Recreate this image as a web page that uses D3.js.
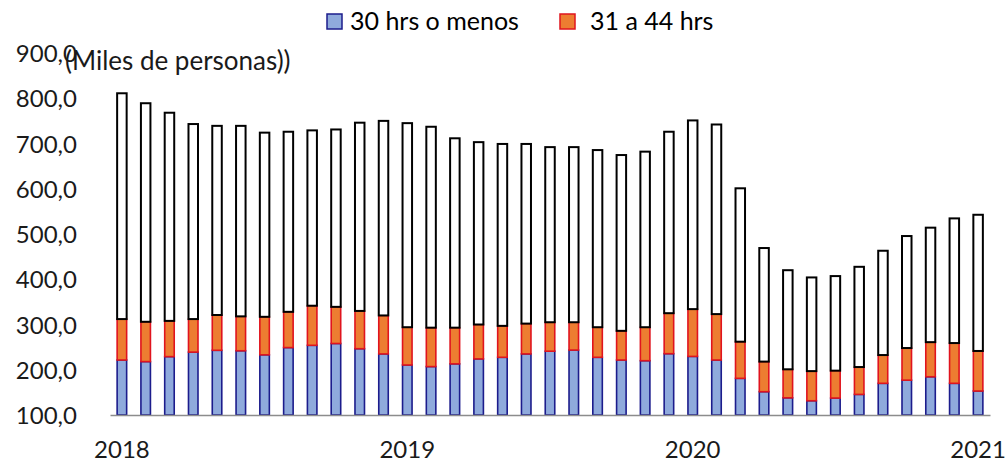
<!DOCTYPE html>
<html>
<head>
<meta charset="utf-8">
<script src="https://cdn.jsdelivr.net/npm/d3@7"></script>
<style>
  html, body { margin: 0; padding: 0; background: #fff; }
  svg { display: block; font-family: Lato, "Open Sans", sans-serif; }
</style>
</head>
<body>
<svg id="chart" width="1008" height="463"></svg>
<script>
// Months Jan 2018 – Jan 2021
const categories = [
  "ene-18","feb-18","mar-18","abr-18","may-18","jun-18","jul-18","ago-18","sep-18","oct-18","nov-18","dic-18",
  "ene-19","feb-19","mar-19","abr-19","may-19","jun-19","jul-19","ago-19","sep-19","oct-19","nov-19","dic-19",
  "ene-20","feb-20","mar-20","abr-20","may-20","jun-20","jul-20","ago-20","sep-20","oct-20","nov-20","dic-20",
  "ene-21"
];
const hrs30 = [221.5,218,229,239,243,242,233,249,254,258,246.5,235,
               210.5,207,213,224,227.5,235,241,243.5,227.5,221.5,220,235.5,
               229.5,221.5,181,151.5,138,131.5,137.5,145.5,170,177,184.5,170,
               153];
const hrs31_44 = [90.5,88,79,73,78,76,84,79,87.5,81,83.5,85,
                  83.5,86,80,76,69.5,67,64,61.5,66.5,64.5,74,89.5,
                  104.5,101.5,81,66.5,63,65.5,60.5,60.5,62.5,71,76.5,89,
                  88.5];
const hrs45 = [499,483,460,431,418,421,407,398,387.5,392,416,430,
               451,444,418.5,403,402,397,387,387,391.5,388.5,388,401,
               417,419,339,251,219,207,209,221.5,230.5,247.5,253,275.5,
               301];
const yTicks = [100,200,300,400,500,600,700,800,900];
const yearTicks = [
  {cat: "ene-18", label: "2018"},
  {cat: "ene-19", label: "2019"},
  {cat: "ene-20", label: "2020"},
  {cat: "ene-21", label: "2021"}
];
const seriesNames = ["30 hrs o menos", "31 a 44 hrs", "45 hrs o más"];
const legendNames = ["30 hrs o menos", "31 a 44 hrs"];
const unitLabel = "(Miles de personas))";

const fills = ["#8FAADC", "#ED7D31", "#FFFFFF"];
const strokes = ["#1C1C8C", "#E0141E", "#000000"];

const svg = d3.select("#chart");

const rows = categories.map((c, i) => ({
  cat: c,
  [seriesNames[0]]: hrs30[i],
  [seriesNames[1]]: hrs31_44[i],
  [seriesNames[2]]: hrs45[i]
}));
const stacked = d3.stack().keys(seriesNames)(rows);

const x = d3.scaleBand().domain(categories).range([110, 990])
  .paddingInner(0.6).paddingOuter(0.3);
const y = d3.scaleLinear().domain([100, 900]).range([415, 53]).clamp(true);

// bars
svg.append("g").selectAll("g")
  .data(stacked)
  .join("g")
  .attr("fill", (d, i) => fills[i])
  .attr("stroke", (d, i) => strokes[i])
  .attr("stroke-width", (d, i) => i === 2 ? 2 : 1.6)
  .selectAll("rect")
  .data(d => d)
  .join("rect")
  .attr("x", d => x(d.data.cat))
  .attr("width", x.bandwidth())
  .attr("y", d => y(d[1]))
  .attr("height", d => y(d[0]) - y(d[1]));

// x axis line
const xAxis = d3.axisBottom(x).tickSize(0).tickValues([]).tickSizeOuter(0);
const gx = svg.append("g").attr("transform", "translate(0,415)").call(xAxis);
gx.select(".domain").attr("stroke", "#8c8c8c").attr("stroke-width", 1.5);

// year labels
svg.append("g").selectAll("text")
  .data(yearTicks)
  .join("text")
  .attr("x", d => x(d.cat) + x.bandwidth() / 2)
  .attr("y", 458)
  .attr("text-anchor", "middle")
  .attr("font-size", 24)
  .attr("fill", "#1a1a1a")
  .text(d => d.label);

// y axis labels (no axis line)
const fmt = v => d3.format(".1f")(v).replace(".", ",");
const yAxis = d3.axisLeft(y).tickValues(yTicks).tickSize(0).tickPadding(0).tickFormat(fmt);
const gy = svg.append("g").attr("transform", "translate(77,0)").call(yAxis);
gy.select(".domain").remove();
gy.selectAll("text")
  .attr("font-family", "Lato, 'Open Sans', sans-serif")
  .attr("font-size", 24)
  .attr("fill", "#1a1a1a")
  .attr("dy", "0.36em");

// unit label
svg.append("text")
  .attr("x", 65).attr("y", 70)
  .attr("font-size", 26)
  .attr("fill", "#1a1a1a")
  .text(unitLabel);

// legend
const legX = [327, 560];
const legTextX = [350, 590];
const leg = svg.append("g").selectAll("g")
  .data(legendNames)
  .join("g");
leg.append("rect")
  .attr("x", (d, i) => legX[i]).attr("y", 14)
  .attr("width", 15).attr("height", 15)
  .attr("fill", (d, i) => fills[i])
  .attr("stroke", (d, i) => strokes[i])
  .attr("stroke-width", 1.5);
leg.append("text")
  .attr("x", (d, i) => legTextX[i]).attr("y", 30)
  .attr("font-size", 25)
  .attr("fill", "#000")
  .text(d => d);
</script>
</body>
</html>
